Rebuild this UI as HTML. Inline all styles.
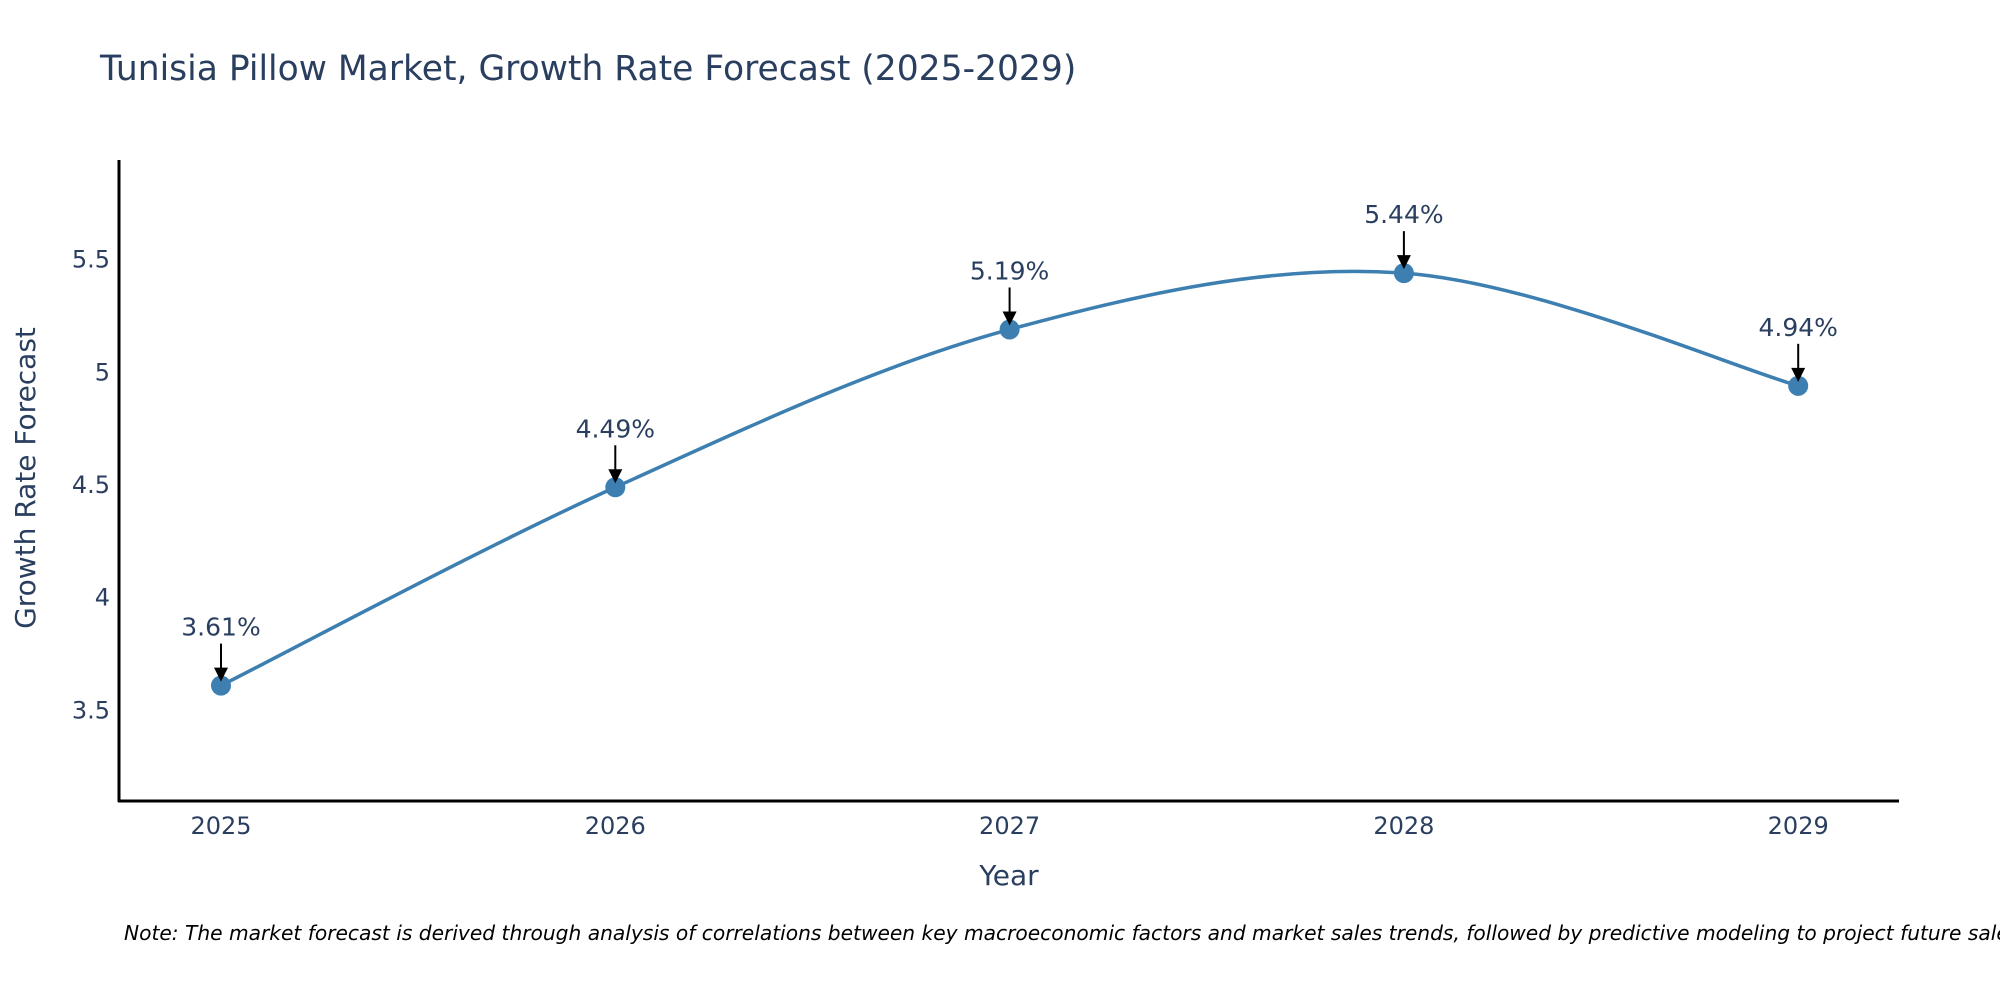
<!DOCTYPE html>
<html><head><meta charset="utf-8"><style>
html,body{margin:0;padding:0;background:#fff;}
svg{display:block;font-family:"DejaVu Sans","Liberation Sans",sans-serif;}
</style></head><body>
<svg id="chart" width="2000" height="1000" viewBox="0 0 2000 1000">
<text x="100" y="80" font-size="34.5" fill="#2a3f5f">Tunisia Pillow Market, Growth Rate Forecast (2025-2029)</text>
<g id="yticks"></g>
<g id="xticks"></g>
<path id="line" fill="none" stroke="#3d7fb0" stroke-width="3.5"/>
<g id="points"></g>
<g id="annos"></g>
<line x1="119" y1="160" x2="119" y2="802" stroke="#000" stroke-width="3"/>
<line x1="118" y1="801" x2="1899" y2="801" stroke="#000" stroke-width="3"/>
<text x="1009" y="885" font-size="28" fill="#2a3f5f" text-anchor="middle">Year</text>
<text transform="translate(35,478) rotate(-90)" font-size="28" fill="#2a3f5f" text-anchor="middle">Growth Rate Forecast</text>
<text x="124" y="940" font-size="20.2" font-style="italic" fill="#000">Note: The market forecast is derived through analysis of correlations between key macroeconomic factors and market sales trends, followed by predictive modeling to project future sales.</text>
</svg>
<script>
const years = [2025, 2026, 2027, 2028, 2029];
const growth = [3.61, 4.49, 5.19, 5.44, 4.94];
const yTickValues = [3.5, 4, 4.5, 5, 5.5];
const yTickLabels = ["3.5", "4", "4.5", "5", "5.5"];
const NS = "http://www.w3.org/2000/svg";
function xs(v){ return 221 + (v - 2025) * 394.3; }
function ys(v){ return 259.6 + (5.5 - v) * 225.4; }
function mk(tag, attrs, parent){ const e=document.createElementNS(NS,tag); for(const k in attrs) e.setAttribute(k,attrs[k]); parent.appendChild(e); return e; }
const yt=document.getElementById('yticks');
yTickValues.forEach((v,i)=>{
  const t=mk('text',{x:110,y:ys(v)+8,'font-size':24,fill:'#2a3f5f','text-anchor':'end'},yt);
  t.textContent=yTickLabels[i];
  
  
});
const xt=document.getElementById('xticks');
years.forEach(y=>{
  const t=mk('text',{x:xs(y),y:834,'font-size':24,fill:'#2a3f5f','text-anchor':'middle'},xt);
  t.textContent=String(y);
  
  
});
const P=years.map((y,i)=>[xs(y),ys(growth[i])]);
let d='M'+P[0][0]+','+P[0][1];
const s=1/6;
for(let i=0;i<P.length-1;i++){
  const p0=P[Math.max(i-1,0)],p1=P[i],p2=P[i+1],p3=P[Math.min(i+2,P.length-1)];
  const c1=[p1[0]+(p2[0]-p0[0])*s,p1[1]+(p2[1]-p0[1])*s];
  const c2=[p2[0]-(p3[0]-p1[0])*s,p2[1]-(p3[1]-p1[1])*s];
  d+=' C'+c1[0]+','+c1[1]+' '+c2[0]+','+c2[1]+' '+p2[0]+','+p2[1];
}
document.getElementById('line').setAttribute('d',d);
const pts=document.getElementById('points'), an=document.getElementById('annos');
P.forEach((p,i)=>{
  const c=mk('circle',{cx:p[0],cy:p[1],r:10,fill:'#3d7fb0'},pts);
  
  
  const l=mk('line',{x1:p[0],y1:p[1]-42,x2:p[0],y2:p[1]-16,stroke:'#000','stroke-width':2},an);
  
  
  const h=mk('polygon',{points:(p[0]-7)+','+(p[1]-18)+' '+(p[0]+7)+','+(p[1]-18)+' '+p[0]+','+(p[1]-4),fill:'#000'},an);
  
  
  const t=mk('text',{x:p[0],y:p[1]-50,'font-size':25,fill:'#2a3f5f','text-anchor':'middle'},an);
  t.textContent=growth[i].toFixed(2)+'%';
  
  
});
</script>
</body></html>
